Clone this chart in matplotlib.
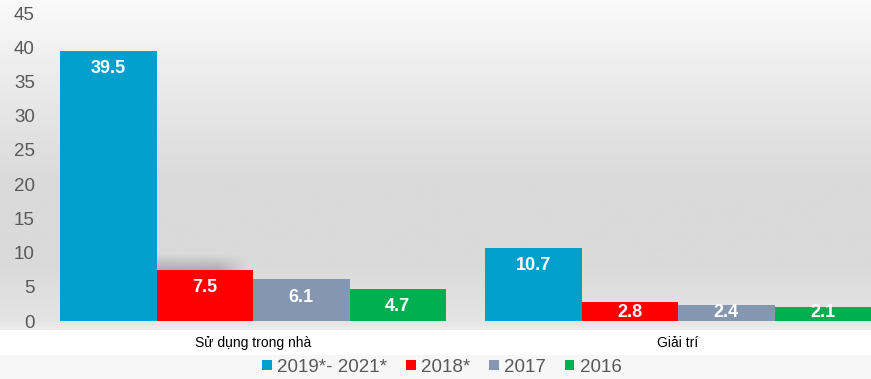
import numpy as np
import matplotlib
matplotlib.use("Agg")
import matplotlib.pyplot as plt
import matplotlib.transforms as mtransforms
from matplotlib.colors import LinearSegmentedColormap, to_rgb
from matplotlib.patches import Rectangle

plt.rcParams["font.family"] = ["Liberation Sans", "DejaVu Sans"]

categories = ["Sử dụng trong nhà", "Giải trí"]
series_names = ["2019*- 2021*", "2018*", "2017", "2016"]
values_2019_2021 = [39.5, 10.7]
values_2018 = [7.5, 2.8]
values_2017 = [6.1, 2.4]
values_2016 = [4.7, 2.1]
series_values = [values_2019_2021, values_2018, values_2017, values_2016]
colors = ["#009FCC", "#FF0000", "#8496B0", "#00B050"]
yticks = [0, 5, 10, 15, 20, 25, 30, 35, 40, 45]

W, H = 871, 379
fig = plt.figure(figsize=(W / 100, H / 100), dpi=100)
fig.patch.set_facecolor("white")

fig.patches.append(Rectangle((0, 0), 1, 24 / H, transform=fig.transFigure,
                             facecolor="#f7f7f7", edgecolor="none", zorder=0))

ax = fig.add_axes([0, (H - 330) / H, 1, 330 / H])
px_per_unit = (321 - 13) / 45.0
ymin = -(330 - 321) / px_per_unit
ymax = 321 / px_per_unit

bw = 96.5 / 425
xlim = (-253 / 425, (871 - 253) / 425)

grad = LinearSegmentedColormap.from_list(
    "bg", [(0.0, "#ececec"), (0.03, "#e4e4e4"), (0.2, "#dadada"),
           (0.45, "#dadada"), (0.75, "#ebebeb"), (1.0, "#fafafa")])
g = np.linspace(0, 1, 256).reshape(-1, 1)
ax.imshow(g, aspect="auto", cmap=grad, origin="lower",
          extent=[xlim[0], xlim[1], ymin, ymax], zorder=0)

x = np.arange(len(categories))
offsets = (np.arange(4) - 1.5) * bw

# soft shadow cast by the tall bar onto the red bar
sh = np.zeros((40, 60, 4))
sh[..., :3] = to_rgb("#8a8a8a")
yy = np.linspace(0, 1, 40).reshape(-1, 1)
xx = np.linspace(0, 1, 60).reshape(1, -1)
sh[..., 3] = 0.55 * (1 - yy) * np.clip((1.0 - xx) * 3, 0, 1)
x0 = offsets[0] + bw / 2
ax.imshow(sh, origin="lower", aspect="auto",
          extent=[x0, x0 + bw * 0.95, values_2018[0], values_2018[0] + 2.3],
          zorder=2, interpolation="bilinear")

for i, (name, vals, c) in enumerate(zip(series_names, series_values, colors)):
    ax.bar(x + offsets[i], vals, width=bw, color=c, label=name,
           zorder=3, linewidth=0)
    for xi, v in zip(x + offsets[i], vals):
        ypos = max(v - 2.6, 1.3)
        ax.text(xi, ypos, f"{v}", ha="center", va="center", color="white",
                fontsize=13, fontweight="bold", zorder=5)

ax.set_xlim(*xlim)
ax.set_ylim(ymin, ymax)
ax.set_yticks(yticks)
ax.set_yticklabels([str(t) for t in yticks], color="#595959", fontsize=13.5)
ax.tick_params(axis="y", length=0, pad=-25)
ax.set_xticks([])
for s in ax.spines.values():
    s.set_visible(False)

trans = mtransforms.blended_transform_factory(ax.transData, fig.transFigure)
for xi, cat in zip(x, categories):
    ax.text(xi, (H - 343) / H, cat, transform=trans, ha="center", va="center",
            fontsize=10, color="#000000", clip_on=False)

fig.legend(loc="center", bbox_to_anchor=(442 / W, (H - 367) / H),
           ncol=4, frameon=False, fontsize=13.5, handlelength=0.5,
           handleheight=0.5, handletextpad=0.3, columnspacing=1.0,
           labelcolor="#595959", borderpad=0)

fig.savefig("out.png", dpi=100)
